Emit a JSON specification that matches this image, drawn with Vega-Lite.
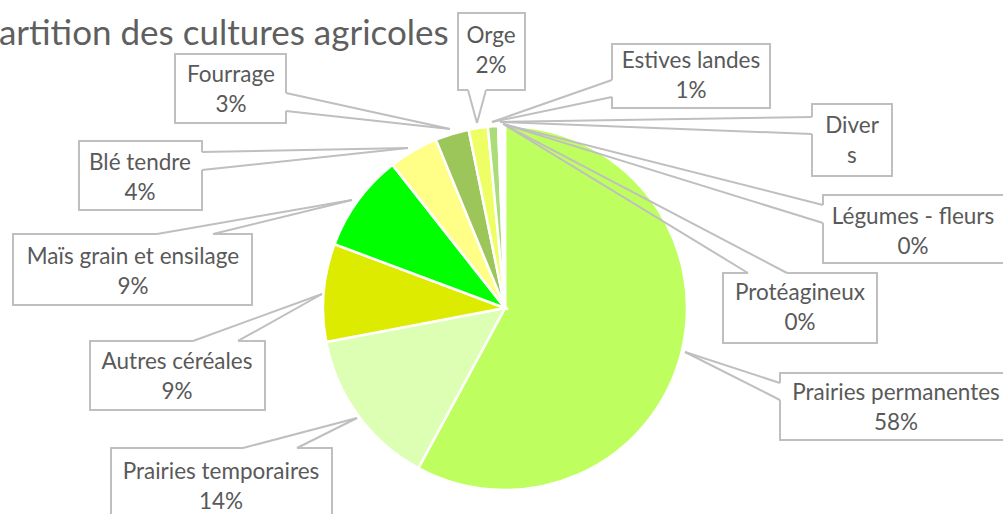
{
  "$schema": "https://vega.github.io/schema/vega-lite/v6.json",
  "width": 1003,
  "height": 514,
  "autosize": {"type": "none"},
  "padding": 0,
  "background": "white",
  "config": {"view": {"stroke": null}, "font": "Lato"},
  "title": {
    "text": "Répartition des cultures agricoles",
    "anchor": "start",
    "frame": "group",
    "font": "Lato",
    "fontSize": 35,
    "fontWeight": "normal",
    "color": "#5F5F5F",
    "baseline": "alphabetic",
    "offset": 0,
    "dx": -60,
    "dy": 80
  },
  "datasets": {
    "crops": [
      {"name": "Prairies permanentes", "value": 57.9, "order": 1},
      {"name": "Prairies temporaires", "value": 14.1, "order": 2},
      {"name": "Autres céréales", "value": 8.7, "order": 3},
      {"name": "Maïs grain et ensilage", "value": 8.7, "order": 4},
      {"name": "Blé tendre", "value": 4.4, "order": 5},
      {"name": "Fourrage", "value": 3.0, "order": 6},
      {"name": "Orge", "value": 1.7, "order": 7},
      {"name": "Estives landes", "value": 0.9, "order": 8},
      {"name": "Divers", "value": 0.2, "order": 9},
      {"name": "Légumes - fleurs", "value": 0.2, "order": 10},
      {"name": "Protéagineux", "value": 0.2, "order": 11}
    ],
    "callouts": [
      {"name": "Orge", "label": ["Orge", "2%"], "x1": -25.82, "x2": 10.99, "y1": 162.09, "y2": 119.78, "cx": -7.69, "cy": 141.21, "b1x": -20.33, "b1y": 119.78, "b2x": -10.44, "b2y": 119.78, "tx": -15.38, "ty": 101.65},
      {"name": "Estives landes", "label": ["Estives landes", "1%"], "x1": 58.79, "x2": 145.6, "y1": 145.05, "y2": 109.89, "cx": 102.2, "cy": 127.47, "b1x": 58.79, "b1y": 125.27, "b2x": 58.79, "b2y": 115.93, "tx": -7.14, "ty": 102.2},
      {"name": "Divers", "label": ["Diver", "s"], "x1": 168.68, "x2": 212.64, "y1": 112.09, "y2": 72.53, "cx": 190.66, "cy": 91.76, "b1x": 168.68, "b1y": 104.95, "b2x": 168.68, "b2y": 95.6, "tx": -2.75, "ty": 102.2},
      {"name": "Légumes - fleurs", "label": ["Légumes - fleurs", "0%"], "x1": 174.73, "x2": 280, "y1": 62.09, "y2": 24.73, "cx": 224.18, "cy": 41.76, "b1x": 174.73, "b1y": 56.59, "b2x": 174.73, "b2y": 46.7, "tx": -1.1, "ty": 101.1},
      {"name": "Protéagineux", "label": ["Protéagineux", "0%"], "x1": 119.78, "x2": 204.4, "y1": 19.23, "y2": -19.23, "cx": 162.09, "cy": -0.27, "b1x": 133.52, "b1y": 19.23, "b2x": 154.95, "b2y": 19.23, "tx": 0, "ty": 100.55},
      {"name": "Prairies permanentes", "label": ["Prairies permanentes", "58%"], "x1": 151.1, "x2": 285, "y1": -35.71, "y2": -72.53, "cx": 214.84, "cy": -54.95, "b1x": 151.1, "b1y": -41.21, "b2x": 151.1, "b2y": -50.55, "tx": 98.9, "ty": -24.18},
      {"name": "Prairies temporaires", "label": ["Prairies temporaires", "14%"], "x1": -216.48, "x2": -95.05, "y1": -76.92, "y2": -120, "cx": -156.04, "cy": -98.35, "b1x": -143.96, "b1y": -76.92, "b2x": -114.29, "b2y": -76.92, "tx": -81.32, "ty": -60.44},
      {"name": "Autres céréales", "label": ["Autres céréales", "9%"], "x1": -228.02, "x2": -131.87, "y1": -18.13, "y2": -56.04, "cx": -180.22, "cy": -37.91, "b1x": -171.43, "b1y": -18.13, "b2x": -146.7, "b2y": -18.13, "tx": -100.55, "ty": 7.69},
      {"name": "Maïs grain et ensilage", "label": ["Maïs grain et ensilage", "9%"], "x1": -270.33, "x2": -139.01, "y1": 40.66, "y2": 1.65, "cx": -204.4, "cy": 19.78, "b1x": -191.21, "b1y": 40.66, "b2x": -160.44, "b2y": 40.66, "tx": -84.07, "ty": 59.34},
      {"name": "Blé tendre", "label": ["Blé tendre", "4%"], "x1": -234.07, "x2": -166.48, "y1": 91.76, "y2": 53.85, "cx": -200.55, "cy": 71.43, "b1x": -166.48, "b1y": 85.71, "b2x": -166.48, "b2y": 75.82, "tx": -53.3, "ty": 87.91},
      {"name": "Fourrage", "label": ["Fourrage", "3%"], "x1": -181.32, "x2": -120.33, "y1": 139.56, "y2": 101.65, "cx": -150.55, "cy": 119.78, "b1x": -120.33, "b1y": 118.13, "b2x": -120.33, "b2y": 108.24, "tx": -30.22, "ty": 98.35}
    ]
  },
  "layer": [
    {
      "data": {"name": "crops"},
      "mark": {"type": "arc", "outerRadius": 182, "stroke": "white", "strokeWidth": 2.5},
      "encoding": {
        "theta": {"field": "value", "type": "quantitative", "stack": true},
        "order": {"field": "order", "type": "quantitative"},
        "color": {
          "field": "name",
          "type": "nominal",
          "legend": null,
          "scale": {
            "domain": ["Prairies permanentes", "Prairies temporaires", "Autres céréales", "Maïs grain et ensilage", "Blé tendre", "Fourrage", "Orge", "Estives landes", "Divers", "Légumes - fleurs", "Protéagineux"],
            "range": ["#BEFF5F", "#DDFFB3", "#DCEB00", "#00FF00", "#FFFF88", "#9DC65A", "#EEFF66", "#AADC78", "#CCEE99", "#99FF66", "#DDFF99"]
          }
        },
        "x": {"datum": 0, "type": "quantitative", "axis": null, "scale": {"domain": [-277.47, 273.63], "nice": false, "zero": false}},
        "y": {"datum": 0, "type": "quantitative", "axis": null, "scale": {"domain": [-113.19, 169.23], "nice": false, "zero": false}}
      }
    },
    {
      "data": {"name": "callouts"},
      "mark": {"type": "rect", "fill": "white", "stroke": "#BFBFBF", "strokeWidth": 2},
      "encoding": {
        "x": {"field": "x1", "type": "quantitative", "axis": null, "scale": {"domain": [-277.47, 273.63], "nice": false, "zero": false}},
        "x2": {"field": "x2"},
        "y": {"field": "y1", "type": "quantitative", "axis": null, "scale": {"domain": [-113.19, 169.23], "nice": false, "zero": false}},
        "y2": {"field": "y2"}
      }
    },
    {
      "data": {"name": "callouts"},
      "mark": {"type": "rule", "color": "white", "strokeWidth": 3},
      "encoding": {
        "x": {"field": "b1x", "type": "quantitative", "axis": null, "scale": {"domain": [-277.47, 273.63], "nice": false, "zero": false}},
        "x2": {"field": "b2x"},
        "y": {"field": "b1y", "type": "quantitative", "axis": null, "scale": {"domain": [-113.19, 169.23], "nice": false, "zero": false}},
        "y2": {"field": "b2y"}
      }
    },
    {
      "data": {"name": "callouts"},
      "mark": {"type": "rule", "color": "#BFBFBF", "strokeWidth": 2},
      "encoding": {
        "x": {"field": "b1x", "type": "quantitative", "axis": null, "scale": {"domain": [-277.47, 273.63], "nice": false, "zero": false}},
        "x2": {"field": "tx"},
        "y": {"field": "b1y", "type": "quantitative", "axis": null, "scale": {"domain": [-113.19, 169.23], "nice": false, "zero": false}},
        "y2": {"field": "ty"}
      }
    },
    {
      "data": {"name": "callouts"},
      "mark": {"type": "rule", "color": "#BFBFBF", "strokeWidth": 2},
      "encoding": {
        "x": {"field": "b2x", "type": "quantitative", "axis": null, "scale": {"domain": [-277.47, 273.63], "nice": false, "zero": false}},
        "x2": {"field": "tx"},
        "y": {"field": "b2y", "type": "quantitative", "axis": null, "scale": {"domain": [-113.19, 169.23], "nice": false, "zero": false}},
        "y2": {"field": "ty"}
      }
    },
    {
      "data": {"name": "callouts"},
      "mark": {"type": "text", "align": "center", "baseline": "middle", "dy": -15, "font": "Lato", "fontSize": 22.5, "lineHeight": 30, "color": "#595959"},
      "encoding": {
        "x": {"field": "cx", "type": "quantitative", "axis": null, "scale": {"domain": [-277.47, 273.63], "nice": false, "zero": false}},
        "y": {"field": "cy", "type": "quantitative", "axis": null, "scale": {"domain": [-113.19, 169.23], "nice": false, "zero": false}},
        "text": {"field": "label"}
      }
    }
  ]
}
